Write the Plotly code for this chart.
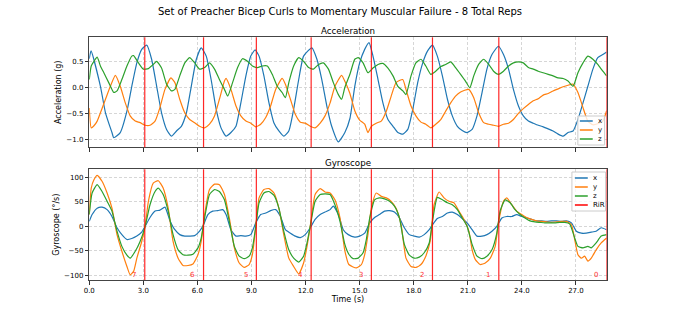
import plotly.graph_objects as go

W, H = 674, 315

# ---------------- data ----------------
# Acceleration (g)
acc_x_t = [0, 0.1, 0.62, 0.9, 1.26, 1.36, 1.72, 2.09, 2.36, 2.64, 2.91, 3.19, 3.46, 3.74, 4.01, 4.29, 4.56, 4.84, 5.11,
           5.39, 5.66, 5.94, 6.21, 6.49, 6.76, 7.04, 7.31, 7.59, 7.86, 8.14, 8.41, 8.69, 8.96, 9.2, 9.42, 9.69, 9.97,
           10.24, 10.52, 10.79, 11.07, 11.34, 11.62, 11.89, 12.35, 12.63, 12.9, 13.18, 13.45, 13.82, 14.18, 14.46,
           14.73, 15.0, 15.28, 15.52, 15.74, 16.02, 16.29, 16.57, 16.85, 17.12, 17.4, 17.67, 17.95, 18.22, 18.5, 18.77,
           19.04, 19.31, 19.59, 19.87, 20.14, 20.42, 20.69, 20.96, 21.24, 21.51, 21.79, 22.06, 22.34, 22.7, 22.98,
           23.26, 23.53, 23.81, 24.08, 24.36, 24.63, 24.91, 25.18, 25.46, 25.73, 26.01, 26.29, 26.56, 26.84, 27.11,
           27.39, 27.66, 27.94, 28.21, 28.49, 28.7]
acc_x_v = [0.55, 0.7, 0.02, -0.49, -0.87, -0.97, -0.87, -0.46, 0.02, 0.47, 0.73, 0.81, 0.54, 0.02, -0.49, -0.81, -0.94,
           -0.84, -0.75, -0.49, 0.02, 0.54, 0.76, 0.6, 0.15, -0.42, -0.78, -0.94, -0.87, -0.75, -0.3, 0.22, 0.6, 0.72,
           0.6, 0.22, -0.3, -0.68, -0.84, -0.94, -0.84, -0.42, 0.15, 0.6, 0.76, 0.54, 0.15, -0.36, -0.75, -1.05, -0.87,
           -0.6, 0.02, 0.47, 0.73, 0.86, 0.6, 0.15, -0.3, -0.62, -0.75, -0.87, -0.9, -0.81, -0.42, 0.09, 0.47, 0.7,
           0.81, 0.6, 0.22, -0.23, -0.55, -0.75, -0.83, -0.87, -0.81, -0.55, -0.1, 0.35, 0.63, 0.79, 0.63, 0.35,
           -0.04, -0.36, -0.55, -0.65, -0.69, -0.73, -0.76, -0.8, -0.84, -0.9, -0.94, -0.87, -0.84, -0.62, -0.3,
           0.02, 0.35, 0.57, 0.63, 0.68]

acc_y_t = [0, 0.11, 0.26, 0.44, 0.62, 0.9, 1.17, 1.45, 1.72, 2.0, 2.27, 2.55, 2.82, 3.1, 3.37, 3.65, 3.92, 4.2, 4.53,
           4.75, 5.02, 5.3, 5.57, 5.85, 6.12, 6.4, 6.67, 6.95, 7.22, 7.5, 7.59, 7.86, 8.14, 8.41, 8.69, 8.96, 9.24,
           9.51, 9.79, 10.06, 10.34, 10.7, 10.88, 11.16, 11.43, 11.71, 11.98, 12.26, 12.53, 12.81, 13.08, 13.36,
           13.63, 14.0, 14.2, 14.46, 14.73, 15.0, 15.28, 15.46, 15.65, 15.92, 16.2, 16.48, 16.75, 17.02, 17.39,
           17.57, 17.85, 18.12, 18.4, 18.67, 18.95, 19.22, 19.5, 19.77, 20.05, 20.32, 20.6, 21.05, 21.33, 21.6,
           21.88, 22.16, 22.43, 22.7, 22.98, 23.26, 23.53, 23.81, 24.08, 24.36, 24.63, 24.91, 25.18, 25.46, 25.73,
           26.01, 26.29, 26.56, 26.84, 27.11, 27.39, 27.66, 27.94, 28.21, 28.49, 28.7]
acc_y_v = [-0.4, -0.78, -0.74, -0.65, -0.49, -0.23, 0.02, 0.23, 0.02, -0.3, -0.55, -0.65, -0.68, -0.73, -0.73, -0.65,
           -0.39, -0.04, 0.18, 0.09, -0.23, -0.49, -0.62, -0.68, -0.75, -0.78, -0.71, -0.55, -0.23, 0.12, 0.17,
           -0.04, -0.36, -0.55, -0.65, -0.69, -0.76, -0.71, -0.58, -0.36, -0.04, 0.17, 0.06, -0.23, -0.52, -0.67,
           -0.69, -0.75, -0.78, -0.69, -0.55, -0.3, 0.02, 0.23, 0.1, -0.12, -0.45, -0.63, -0.71, -0.87, -0.75, -0.69,
           -0.65, -0.46, -0.17, 0.09, 0.15, -0.04, -0.36, -0.55, -0.67, -0.71, -0.78, -0.71, -0.62, -0.46, -0.3,
           -0.17, -0.09, -0.04, -0.2, -0.49, -0.68, -0.71, -0.73, -0.75, -0.71, -0.69, -0.62, -0.5, -0.41, -0.33,
           -0.26, -0.22, -0.15, -0.12, -0.07, -0.03, 0.01, 0.04, 0.06, -0.1, -0.39, -0.65, -0.72, -0.7, -0.65,
           -0.45]

acc_z_t = [0, 0.11, 0.26, 0.44, 0.62, 0.81, 1.08, 1.36, 1.54, 1.81, 2.09, 2.36, 2.46, 2.73, 3.0, 3.28, 3.55, 3.74,
           4.01, 4.29, 4.56, 4.75, 5.02, 5.3, 5.57, 5.85, 6.12, 6.4, 6.67, 6.95, 7.22, 7.5, 7.68, 7.95, 8.23, 8.5,
           8.78, 9.05, 9.33, 9.6, 9.88, 10.15, 10.43, 10.7, 10.88, 11.07, 11.34, 11.62, 11.89, 12.17, 12.44, 12.72,
           12.99, 13.27, 13.54, 13.82, 14.0, 14.18, 14.46, 14.73, 14.92, 15.19, 15.46, 15.74, 16.02, 16.29, 16.57,
           16.85, 17.12, 17.4, 17.57, 17.85, 18.12, 18.4, 18.67, 18.95, 19.22, 19.5, 19.77, 20.05, 20.32, 20.6,
           20.87, 21.11, 21.33, 21.6, 21.88, 22.16, 22.43, 22.7, 22.98, 23.26, 23.53, 23.81, 24.08, 24.36, 24.63,
           24.91, 25.18, 25.46, 25.73, 26.01, 26.29, 26.56, 26.84, 27.11, 27.39, 27.66, 27.94, 28.21, 28.49, 28.7]
acc_z_v = [0.15, 0.41, 0.5, 0.58, 0.41, 0.28, 0.09, -0.1, -0.07, 0.15, 0.41, 0.6, 0.61, 0.47, 0.35, 0.36, 0.44, 0.5,
           0.37, 0.06, -0.07, -0.04, 0.22, 0.47, 0.57, 0.47, 0.35, 0.38, 0.47, 0.35, 0.15, -0.04, -0.17, 0.09, 0.38,
           0.55, 0.5, 0.41, 0.38, 0.41, 0.41, 0.25, 0.02, -0.1, -0.2, 0.09, 0.41, 0.57, 0.5, 0.38, 0.35, 0.44, 0.47,
           0.35, 0.09, -0.14, -0.23, 0.0, 0.25, 0.54, 0.57, 0.47, 0.28, 0.37, 0.44, 0.46, 0.37, 0.22, 0.02, -0.07,
           -0.14, 0.22, 0.47, 0.54, 0.41, 0.25, 0.31, 0.4, 0.44, 0.49, 0.38, 0.25, 0.12, -0.01, 0.22, 0.44, 0.54,
           0.44, 0.31, 0.25, 0.31, 0.41, 0.47, 0.49, 0.47, 0.38, 0.35, 0.31, 0.28, 0.25, 0.22, 0.18, 0.17, 0.12,
           0.02, 0.28, 0.47, 0.6, 0.54, 0.44, 0.31, 0.22]

# Gyroscope (deg/s)
gyr_x_t = [0, 0.16, 0.44, 0.71, 0.99, 1.26, 1.54, 1.81, 2.09, 2.36, 2.64, 2.91, 3.1, 3.37, 3.65, 3.92, 4.2, 4.47, 4.75,
           5.02, 5.3, 5.57, 5.85, 6.12, 6.34, 6.58, 6.85, 7.13, 7.4, 7.59, 7.86, 8.14, 8.41, 8.69, 8.96, 9.24, 9.51,
           9.79, 10.06, 10.34, 10.61, 10.88, 11.16, 11.43, 11.71, 11.98, 12.26, 12.53, 12.81, 13.08, 13.36, 13.54,
           13.82, 14.09, 14.37, 14.73, 15.0, 15.28, 15.56, 15.83, 16.1, 16.38, 16.66, 16.93, 17.21, 17.48, 17.76,
           18.03, 18.31, 18.58, 18.86, 19.04, 19.31, 19.59, 19.87, 20.14, 20.42, 20.69, 20.96, 21.24, 21.51, 21.79,
           22.06, 22.34, 22.61, 22.89, 23.16, 23.44, 23.71, 23.99, 24.26, 24.54, 24.82, 25.09, 25.37, 25.64, 25.92,
           26.2, 26.47, 26.75, 27.02, 27.3, 27.57, 27.85, 28.12, 28.4, 28.7]
gyr_x_v = [10, 24, 37, 39, 34, 20, -3, -17, -27, -25, -20, -12, 0, 18, 31, 33, 39, 12, -7, -17, -20, -20, -19, -10, 3,
           24, 31, 32, 34, 24, -7, -20, -19, -20, -17, 7, 24, 27, 32, 34, 20, -7, -14, -20, -23, -17, -3, 14, 24, 29,
           34, 41, 24, -7, -17, -22, -20, -14, 7, 18, 24, 31, 32, 29, 17, -3, -17, -20, -22, -17, -7, 3, 16, 20, 27,
           29, 24, 16, 7, -7, -20, -20, -17, -10, 0, 17, 20, 20, 24, 20, 17, 14, 11, 11, 10, 11, 11, 10, 11, 7, -10,
           -14, -14, -12, -10, -3, -7]

gyr_y_t = [0, 0.11, 0.26, 0.44, 0.71, 0.99, 1.26, 1.54, 1.81, 2.09, 2.27, 2.46, 2.64, 2.91, 3.1, 3.28, 3.55, 3.83, 4.1,
           4.38, 4.65, 4.93, 5.2, 5.48, 5.75, 6.03, 6.21, 6.4, 6.67, 6.95, 7.22, 7.5, 7.77, 8.05, 8.32, 8.6, 8.87,
           9.05, 9.24, 9.42, 9.69, 9.97, 10.25, 10.52, 10.79, 11.07, 11.34, 11.62, 11.89, 12.08, 12.26, 12.53, 12.81,
           13.08, 13.36, 13.63, 13.91, 14.18, 14.4, 14.82, 15.1, 15.28, 15.46, 15.65, 15.92, 16.2, 16.48, 16.75,
           17.02, 17.3, 17.57, 17.85, 18.12, 18.4, 18.67, 18.91, 19.13, 19.41, 19.68, 19.96, 20.23, 20.51, 20.79,
           21.06, 21.24, 21.42, 21.69, 21.97, 22.25, 22.52, 22.7, 22.98, 23.16, 23.44, 23.71, 23.99, 24.26, 24.54,
           24.82, 25.09, 25.37, 25.64, 25.92, 26.2, 26.47, 26.75, 26.93, 27.11, 27.3, 27.48, 27.66, 27.85, 28.12,
           28.4, 28.7]
gyr_y_v = [24, 78, 95, 104, 92, 68, 37, -17, -51, -82, -99, -92, -65, -31, 0, 51, 88, 93, 78, 37, -31, -65, -80, -80,
           -77, -58, -31, 24, 75, 86, 85, 65, 17, -44, -75, -84, -78, -58, 0, 58, 75, 77, 68, 37, -17, -65, -82, -97,
           -75, -41, 0, 65, 77, 70, 68, 54, 17, -50, -78, -85, -78, -58, -17, 37, 68, 61, 58, 51, 37, 3, -65, -82,
           -84, -78, -61, -31, 44, 70, 58, 51, 48, 31, 14, -10, -48, -68, -78, -75, -65, -41, 7, 51, 58, 44, 31, 24,
           18, 14, 11, 10, 9, 8, 9, 10, 10, 3, -27, -58, -65, -61, -71, -65, -48, -34, -24]

gyr_z_t = [0, 0.16, 0.44, 0.71, 0.99, 1.26, 1.54, 1.81, 2.09, 2.27, 2.55, 2.82, 3.1, 3.37, 3.65, 3.83, 4.1, 4.38, 4.65,
           4.93, 5.2, 5.48, 5.75, 6.03, 6.21, 6.4, 6.67, 6.95, 7.22, 7.5, 7.77, 8.05, 8.32, 8.6, 8.87, 9.05, 9.24,
           9.42, 9.69, 9.97, 10.25, 10.52, 10.79, 11.07, 11.34, 11.62, 11.89, 12.08, 12.26, 12.53, 12.81, 13.08,
           13.36, 13.63, 13.91, 14.18, 14.4, 14.64, 14.92, 15.19, 15.37, 15.56, 15.83, 16.1, 16.38, 16.66, 16.93,
           17.21, 17.48, 17.76, 18.03, 18.31, 18.58, 18.86, 19.04, 19.31, 19.59, 19.87, 20.14, 20.42, 20.69, 20.96,
           21.24, 21.51, 21.79, 22.06, 22.34, 22.61, 22.79, 23.07, 23.35, 23.62, 23.9, 24.17, 24.45, 24.73, 25.0,
           25.27, 25.55, 25.82, 26.1, 26.38, 26.65, 26.93, 27.11, 27.39, 27.66, 27.85, 28.12, 28.4, 28.7]
gyr_z_v = [24, 68, 85, 71, 51, 31, -10, -41, -59, -65, -51, -31, 0, 44, 71, 78, 65, 31, -17, -48, -58, -59, -57, -44,
           -24, 17, 65, 75, 71, 54, 10, -41, -61, -66, -61, -44, 0, 48, 68, 71, 63, 37, -10, -48, -65, -73, -61, -34,
           0, 51, 65, 66, 65, 44, 10, -37, -57, -66, -65, -54, -27, 17, 54, 58, 56, 51, 41, 17, -37, -59, -65, -63,
           -54, -34, 10, 59, 54, 48, 44, 34, 17, 0, -37, -61, -66, -61, -48, -14, 31, 54, 48, 34, 24, 17, 11, 9, 8,
           7, 7, 7, 8, 8, 5, -24, -41, -44, -41, -44, -34, -20, -17]

# Repetitions-in-reserve markers
rir_times = [3.08, 6.34, 9.27, 12.31, 15.65, 19.04, 22.72, 28.7]
rir_labels = ["7", "6", "5", "4", "3", "2", "1", "0"]

x_ticks = [0, 3, 6, 9, 12, 15, 18, 21, 24, 27]
x_tick_labels = ["0.0", "3.0", "6.0", "9.0", "12.0", "15.0", "18.0", "21.0", "24.0", "27.0"]
acc_ticks = [-1.0, -0.5, 0.0, 0.5]
acc_tick_labels = ["\u22121.0", "\u22120.5", "0.0", "0.5"]
gyr_ticks = [-100, -50, 0, 50, 100]
gyr_tick_labels = ["\u2212100", "\u221250", "0", "50", "100"]

series_names = ["x", "y", "z"]
colors = ["#1f77b4", "#ff7f0e", "#2ca02c"]
rir_color = "rgba(255,0,0,0.85)"
rir_text_color = "#ff3333"

# ---------------- figure ----------------
FONT = "DejaVu Sans"
fig = go.Figure()

acc_series = [(acc_x_t, acc_x_v), (acc_y_t, acc_y_v), (acc_z_t, acc_z_v)]
gyr_series = [(gyr_x_t, gyr_x_v), (gyr_y_t, gyr_y_v), (gyr_z_t, gyr_z_v)]

for (t, v), name, c in zip(acc_series, series_names, colors):
    fig.add_trace(go.Scatter(x=t, y=v, mode="lines", name=name, showlegend=False,
                             line=dict(color=c, width=1.2, shape="spline", smoothing=0.5),
                             xaxis="x", yaxis="y"))
for (t, v), name, c in zip(gyr_series, series_names, colors):
    fig.add_trace(go.Scatter(x=t, y=v, mode="lines", name=name, showlegend=False,
                             line=dict(color=c, width=1.2, shape="spline", smoothing=0.5),
                             xaxis="x2", yaxis="y2"))

shapes = []
annotations = []
for t in rir_times:
    for xr, yr in (("x", "y domain"), ("x2", "y2 domain")):
        shapes.append(dict(type="line", xref=xr, yref=yr, x0=t, x1=t, y0=0, y1=1,
                           line=dict(color=rir_color, width=1.2), layer="above"))
for t, lab in zip(rir_times, rir_labels):
    annotations.append(dict(x=t - 0.6, y=-100, xref="x2", yref="y2", text=lab, showarrow=False,
                            xanchor="center", yanchor="middle",
                            font=dict(family=FONT, size=7, color=rir_text_color)))


def px2x(p):
    return p / W


def py2y(p):
    return 1 - p / H


x_dom = [px2x(84), px2x(606)]
acc_dom = [py2y(147.3), py2y(37.3)]
gyr_dom = [py2y(280), py2y(169.3)]

# titles
annotations.append(dict(x=px2x(337), y=py2y(12), xref="paper", yref="paper", showarrow=False,
                        xanchor="center", yanchor="middle",
                        text="Set of Preacher Bicep Curls to Momentary Muscular Failure - 8 Total Reps",
                        font=dict(family=FONT, size=10, color="black")))
annotations.append(dict(x=px2x(345), y=py2y(31), xref="paper", yref="paper", showarrow=False,
                        xanchor="center", yanchor="middle",
                        text="Acceleration", font=dict(family=FONT, size=8.7, color="black")))
annotations.append(dict(x=px2x(345), y=py2y(163), xref="paper", yref="paper", showarrow=False,
                        xanchor="center", yanchor="middle",
                        text="Gyroscope", font=dict(family=FONT, size=8.7, color="black")))


# legends (drawn like matplotlib's compact legends)
def add_legend(left, top, right, bottom, rows_y, line_x0, line_x1, text_x, names, cols):
    shapes.append(dict(type="rect", xref="paper", yref="paper",
                       x0=px2x(left), x1=px2x(right), y0=py2y(bottom), y1=py2y(top),
                       line=dict(color="#cccccc", width=1), fillcolor="rgba(255,255,255,0.8)", layer="above"))
    for ry, nm, c in zip(rows_y, names, cols):
        shapes.append(dict(type="line", xref="paper", yref="paper",
                           x0=px2x(line_x0), x1=px2x(line_x1), y0=py2y(ry), y1=py2y(ry),
                           line=dict(color=c, width=1.5), layer="above"))
        annotations.append(dict(x=px2x(text_x), y=py2y(ry), xref="paper", yref="paper", showarrow=False,
                                xanchor="left", yanchor="middle", text=nm,
                                font=dict(family=FONT, size=7, color="black")))


add_legend(577, 116, 604, 145, [121, 130, 139], 579, 592, 595, series_names, colors)
add_legend(571, 172, 605, 211, [178, 187, 196, 205], 574, 587, 590,
           series_names + ["RiR"], colors + ["#ff0000"])

common_x = dict(range=[0, 28.7], tickmode="array", tickvals=x_ticks, ticks="outside", ticklen=3.5,
                tickwidth=0.8, tickcolor="#333", showline=True, mirror=True, linecolor="#444", linewidth=1,
                showgrid=True, gridcolor="#d6d6d6", griddash="3px,2px", gridwidth=0.8, zeroline=False,
                domain=x_dom)
common_y = dict(ticks="outside", ticklen=3.5, tickwidth=0.8, tickcolor="#333", showline=True, mirror=True,
                linecolor="#444", linewidth=1, showgrid=True, gridcolor="#d6d6d6", griddash="3px,2px",
                gridwidth=0.8, zeroline=False, tickfont=dict(family=FONT, size=7, color="black"))

fig.update_layout(
    width=W, height=H,
    margin=dict(l=0, r=0, t=0, b=0),
    paper_bgcolor="white", plot_bgcolor="white",
    font=dict(family=FONT, color="black"),
    showlegend=False,
    xaxis=dict(**common_x, anchor="y", showticklabels=False, ticktext=x_tick_labels),
    xaxis2=dict(**common_x, anchor="y2", showticklabels=True, ticktext=x_tick_labels,
                tickfont=dict(family=FONT, size=7, color="black"),
                title=dict(text="Time (s)", font=dict(family=FONT, size=8, color="black"), standoff=2)),
    yaxis=dict(**common_y, domain=acc_dom, anchor="x", range=[-1.154, 0.962], tickmode="array",
               tickvals=acc_ticks, ticktext=acc_tick_labels,
               title=dict(text="Acceleration (g)", font=dict(family=FONT, size=8, color="black"), standoff=3)),
    yaxis2=dict(**common_y, domain=gyr_dom, anchor="x2", range=[-109.6, 116.3], tickmode="array",
                tickvals=gyr_ticks, ticktext=gyr_tick_labels,
                title=dict(text="Gyroscope (\u00b0/s)", font=dict(family=FONT, size=8, color="black"), standoff=3)),
    shapes=shapes,
    annotations=annotations,
)

fig.write_html("out.html", config={"displayModeBar": False},
               post_script="document.body.style.margin='0';document.body.style.padding='0';")
